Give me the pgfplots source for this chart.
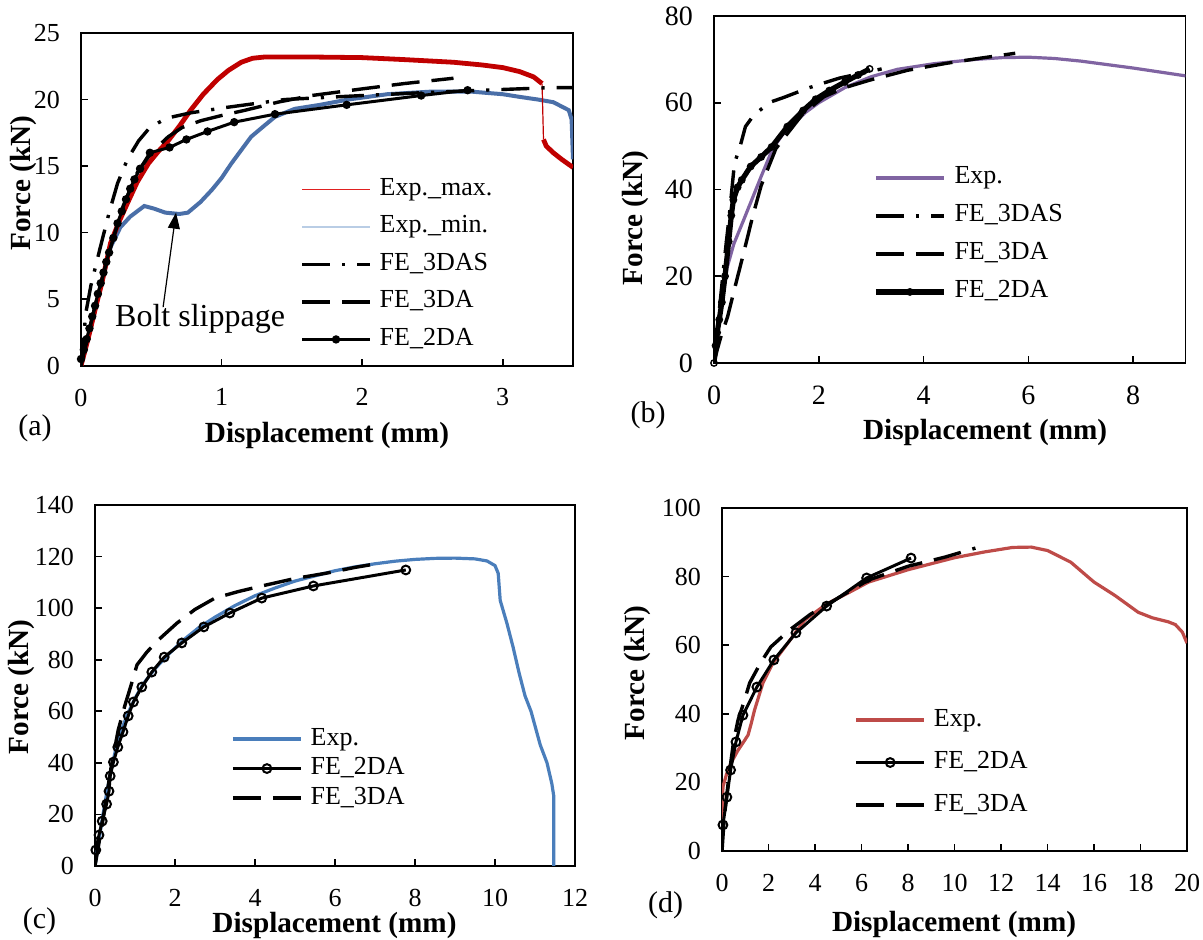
\documentclass[border=0pt]{standalone}
\usepackage{fontspec}
\setmainfont{Liberation Serif}
\usepackage{pgfplots}
\pgfplotsset{compat=1.18}
\usetikzlibrary{arrows.meta}

\definecolor{expmax}{HTML}{C00000}
\definecolor{expmaxleg}{HTML}{E02020}
\definecolor{expmin}{HTML}{4A6FA8}
\definecolor{expminleg}{HTML}{B9CDE5}
\definecolor{expb}{HTML}{8064A2}
\definecolor{expc}{HTML}{4A7EBB}
\definecolor{expd}{HTML}{BE4B48}

\pgfplotsset{
  panel/.style={
    scale only axis,
    axis line style={line width=0.9pt},
    tick align=inside,
    xtick pos=left, ytick pos=left,
    major tick length=3.5pt,
    tick style={black, line width=0.8pt},
    ticklabel style={font=\fontsize{13}{13}\selectfont},
    /pgf/number format/assume math mode=true,
    xticklabel shift=8pt, yticklabel shift=7pt,
    label style={font=\bfseries\fontsize{14.6}{16}\selectfont},
    xlabel style={anchor=center}, ylabel style={anchor=center},
    xlabel={Displacement (mm)}, ylabel={Force (kN)},
    legend cell align=left,
    legend style={draw=none, fill=none, inner sep=0pt, anchor=north west,
      column sep=4pt, font=\fontsize{13}{13}\selectfont,
      nodes={inner sep=0pt, text height=9pt, text depth=3pt}},
    legend image code/.code={\draw[mark repeat=2,mark phase=2,#1]
      plot coordinates {(0pt,0pt) (17pt,0pt) (34pt,0pt)};},
  },
  fe3das/.style={black, line width=1.7pt, dash pattern=on 14pt off 6pt on 1.6pt off 6pt},
  fe3da/.style={black, line width=1.7pt, dash pattern=on 14pt off 6pt},
}

\begin{document}
\begin{tikzpicture}
\useasboundingbox (0,0) rectangle (601.5pt,470pt);

% (a)
\begin{axis}[panel, at={(40.5pt,287.15pt)}, anchor=south west,
  width=246pt, height=166.35pt,
  xmin=0, xmax=3.5, ymin=0, ymax=25,
  xtick={0,1,2,3}, ytick={0,5,...,25},
  xlabel style={at={(axis description cs:0.5,-0.211)}},
  ylabel style={at={(axis description cs:-0.117,0.548)}},
  legend style={at={(0.445,0.567)}, row sep=6.75pt}]
\addplot[expmin, line width=2pt, forget plot] coordinates {
(0,0) (0.05,2.0) (0.1,4.2) (0.15,6.3) (0.21,8.9) (0.28,10.4) (0.35,11.2)
(0.45,12.0) (0.52,11.8) (0.6,11.5) (0.7,11.4) (0.76,11.5) (0.85,12.3)
(0.93,13.2) (1.0,14.1) (1.07,15.2) (1.14,16.2) (1.21,17.2) (1.3,18.0)
(1.38,18.7) (1.52,19.3) (1.7,19.6) (1.9,20.0) (2.18,20.4) (2.5,20.6)
(2.77,20.6) (3.0,20.4) (3.12,20.2) (3.25,20.0) (3.36,19.8) (3.47,19.2)
(3.49,18.5) (3.5,15.5)};
\addplot[expmax, line width=2.4pt, forget plot] coordinates {
(0,0) (0.05,2.0) (0.1,4.2) (0.15,6.3) (0.21,9.2) (0.27,10.8) (0.33,12.2)
(0.4,13.8) (0.48,15.2) (0.55,16.1) (0.62,16.9) (0.7,18.0) (0.78,19.2)
(0.87,20.4) (0.97,21.5) (1.05,22.2) (1.14,22.8) (1.22,23.1) (1.31,23.2)
(1.6,23.2) (2.0,23.15) (2.3,23.0) (2.65,22.8) (2.85,22.6) (3.0,22.4)
(3.12,22.1) (3.22,21.7) (3.28,21.2)};
\addplot[expmax, line width=0.6pt, forget plot] coordinates {(3.28,21.2) (3.29,17.0)};
\addplot[expmax, line width=2.4pt, forget plot] coordinates {
(3.29,17.0) (3.31,16.5) (3.36,16.0) (3.42,15.5) (3.5,14.9)};
\addplot[fe3das, forget plot] coordinates {
(0,0) (0.035,4.0) (0.07,6.0) (0.135,8.8) (0.2,11.5) (0.26,13.7) (0.33,15.5)
(0.41,16.9) (0.49,17.9) (0.61,18.6) (0.78,19.0) (1.03,19.4) (1.45,20.0)
(2.0,20.3) (2.4,20.5) (2.86,20.7) (3.36,20.9) (3.5,20.9)};
\addplot[fe3da, forget plot] coordinates {
(0,0) (0.05,2.2) (0.1,4.5) (0.2,8.5) (0.3,12.0) (0.4,14.5) (0.48,15.7)
(0.55,16.5) (0.62,17.2) (0.72,17.9) (0.85,18.4) (1.0,18.8) (1.17,19.2)
(1.4,19.8) (1.64,20.3) (2.0,20.8) (2.3,21.2) (2.65,21.6)};
\addplot[black, line width=1.5pt, mark=*, mark size=1.3pt, forget plot] coordinates {
(0,0.5) (0.02,1.2) (0.04,2.0) (0.06,2.8) (0.08,3.7) (0.1,4.5) (0.12,5.4)
(0.14,6.2) (0.16,7.0) (0.18,7.8) (0.2,8.5) (0.23,9.6) (0.26,10.7)
(0.29,11.6) (0.32,12.5) (0.35,13.3) (0.38,14.0) (0.42,14.8) (0.49,16.0)
(0.63,16.4) (0.75,17.0) (0.9,17.6) (1.09,18.3) (1.38,18.9) (1.89,19.6)
(2.42,20.3) (2.75,20.7)};
\addlegendimage{expmaxleg, line width=0.9pt}
\addlegendentry{Exp.\_max.}
\addlegendimage{expminleg, line width=1.2pt}
\addlegendentry{Exp.\_min.}
\addlegendimage{fe3das}
\addlegendentry{FE\_3DAS}
\addlegendimage{fe3da}
\addlegendentry{FE\_3DA}
\addlegendimage{black, line width=1.5pt, mark=*, mark size=1.3pt}
\addlegendentry{FE\_2DA}
\draw[-{Triangle[length=8pt,width=6pt]}, line width=0.6pt]
  (axis cs:0.584,4.4) -- (axis cs:0.676,11.5);
\node[font=\fontsize{16}{16}\selectfont] at (axis cs:0.847,3.54) {Bolt slippage};
\end{axis}

% (b)
\begin{axis}[panel, at={(357pt,288.5pt)}, anchor=south west,
  width=235.75pt, height=173.5pt,
  xmin=0, xmax=9, ymin=0, ymax=80,
  xtick={0,2,...,8}, ytick={0,20,...,80},
  ticklabel style={font=\fontsize{14}{14}\selectfont},
  xlabel style={at={(axis description cs:0.575,-0.199)}},
  ylabel style={at={(axis description cs:-0.167,0.418)}},
  legend style={at={(0.337,0.569)}, row sep=7pt}]
\addplot[expb, line width=1.6pt] coordinates {
(0,0) (0.05,5) (0.1,10) (0.18,17) (0.25,22) (0.38,27.5) (0.55,32.5)
(0.7,37) (0.9,43) (1.12,49.4) (1.3,52.5) (1.5,55) (1.75,57.8) (2.0,60)
(2.5,63.5) (3.0,66.0) (3.5,67.7) (4.2,69.0) (5.0,70.0) (5.5,70.4)
(6.0,70.5) (6.5,70.2) (7.0,69.6) (7.5,68.8) (8.0,68.0) (8.5,67.1) (9.0,66.2)};
\addlegendentry{Exp.}
\addplot[fe3das] coordinates {
(0,0) (0.1,12) (0.2,24) (0.3,35) (0.39,46) (0.5,50) (0.6,54.5) (0.75,57)
(0.9,58.5) (1.09,60.2) (1.35,61.3) (1.8,63.4) (2.16,64.8) (2.4,65.7)
(2.9,67.0) (3.2,67.8)};
\addlegendentry{FE\_3DAS}
\addplot[fe3da] coordinates {
(0,0) (0.06,3) (0.13,6) (0.26,10.7) (0.4,17.5) (0.55,24.6) (0.74,33.9)
(0.9,40.9) (1.18,49.4) (1.37,52.4) (1.7,57.5) (2.1,61.4) (2.5,63.5)
(2.97,65.2) (3.7,67.5) (4.44,69.1) (5.1,70.3) (5.75,71.4)};
\addlegendentry{FE\_3DA}
\addplot[black, line width=2.6pt, mark=o, mark size=1.6pt,
  mark options={line width=0.7pt}] coordinates {
(0,0) (0.03,4) (0.06,7) (0.1,10) (0.15,14) (0.21,20) (0.28,28) (0.33,34)
(0.37,37.6) (0.45,40.5) (0.53,42.2) (0.7,45.3) (0.9,47.5) (1.1,49.8)
(1.4,54.5) (1.7,58.2) (1.94,60.8) (2.2,62.8) (2.5,64.8) (2.75,66.4) (2.97,67.8)};
\addlegendentry{FE\_2DA}
\end{axis}

% (c)
\begin{axis}[panel, at={(47.5pt,37pt)}, anchor=south west,
  width=240pt, height=180.5pt,
  xmin=0, xmax=12, ymin=0, ymax=140,
  xtick={0,2,...,12}, ytick={0,20,...,140},
  xlabel style={at={(axis description cs:0.499,-0.166)}},
  ylabel style={at={(axis description cs:-0.154,0.496)}},
  legend style={at={(0.283,0.386)}, row sep=2.75pt}]
\addplot[expc, line width=1.6pt] coordinates {
(0,0) (0.1,10) (0.2,20) (0.3,29) (0.4,37) (0.5,44) (0.6,50) (0.8,58.5)
(1.0,65) (1.2,70.5) (1.5,76.5) (1.8,81.5) (2.2,87.5) (2.6,92.5) (3.0,96.5)
(3.5,101) (4.0,104.8) (4.5,107.8) (5.0,110.5) (5.5,112.5) (6.0,114.5)
(6.5,116) (7.0,117.2) (7.5,118.2) (8.0,118.9) (8.5,119.3) (9.0,119.4)
(9.5,119.1) (9.8,118.3) (10.0,116.5) (10.08,113.5) (10.13,103) (10.3,94)
(10.45,85) (10.6,75) (10.75,66) (10.9,60) (11.13,47) (11.3,40)
(11.42,32) (11.47,27) (11.47,0)};
\addlegendentry{Exp.}
\addplot[black, line width=1.5pt, mark=o, mark size=2.2pt,
  mark options={line width=1pt}] coordinates {
(0.02,6.2) (0.1,12) (0.18,17.4) (0.29,24) (0.35,29) (0.38,34.9) (0.46,40.3)
(0.57,46.1) (0.7,52) (0.83,58.2) (0.96,63.6) (1.17,69.4) (1.42,75.2)
(1.73,81) (2.17,86.5) (2.72,92.7) (3.37,98.1) (4.17,103.9) (5.46,108.6)
(7.77,114.8)};
\addlegendentry{FE\_2DA}
\addplot[fe3da] coordinates {
(0,0) (0.2,18) (0.4,38) (0.58,52.7) (0.75,62.4) (0.9,70) (1.05,78) (1.3,83)
(1.58,87.6) (2.05,94.2) (2.5,99.5) (3.0,103.9) (3.6,106.5) (4.17,108.6)
(5.0,111.5) (5.8,113.6) (6.5,115.8) (7.15,117.5)};
\addlegendentry{FE\_3DA}
\end{axis}

% (d)
\begin{axis}[panel, at={(361pt,44.5pt)}, anchor=south west,
  width=232.5pt, height=171.5pt,
  xmin=0, xmax=20, ymin=0, ymax=100,
  xtick={0,2,...,20}, ytick={0,20,...,100},
  xlabel style={at={(axis description cs:0.499,-0.213)}},
  ylabel style={at={(axis description cs:-0.182,0.519)}},
  legend style={at={(0.284,0.418)}, row sep=9.25pt}]
\addplot[expd, line width=1.6pt] coordinates {
(0,0) (0.02,10) (0.04,18.7) (0.2,22.5) (0.39,25.7) (0.69,29.4) (0.9,31.5)
(1.12,33.8) (1.25,37) (1.4,41.1) (1.76,49) (2.19,54.8) (2.83,60.6)
(3.55,67.3) (4.5,72) (5.5,75.5) (6.3,78.4) (8.0,82) (10.0,85.5) (11.3,87.2)
(12.5,88.5) (13.3,88.6) (14.0,87.6) (15.0,84.2) (16.0,78.4) (16.9,74.5)
(17.9,69.6) (18.5,68) (19.2,66.8) (19.5,66) (19.8,63.8) (20,60.6)};
\addlegendentry{Exp.}
\addplot[black, line width=1.5pt, forget plot] coordinates {(0,0) (0.04,7.6)};
\addplot[black, line width=1.5pt, mark=o, mark size=2.2pt,
  mark options={line width=1pt}] coordinates {
(0.04,7.6) (0.21,15.7) (0.37,23.6) (0.6,31.8) (0.9,39.6) (1.5,47.8)
(2.23,55.7) (3.18,63.6) (4.5,71.4) (6.22,79.6) (8.13,85.4)};
\addlegendentry{FE\_2DA}
\addplot[fe3da] coordinates {
(0,0) (0.1,10) (0.3,22) (0.5,32) (0.69,38.2) (0.97,44) (1.19,49) (1.68,55.1)
(2.1,59.5) (2.9,64.4) (3.8,69) (4.8,73) (6.3,79) (8,83) (9.6,85.7) (10.9,88.3)};
\addlegendentry{FE\_3DA}
\end{axis}

\node[font=\fontsize{15}{15}\selectfont] at (17.5pt,256pt) {(a)};
\node[font=\fontsize{15}{15}\selectfont] at (324pt,262.5pt) {(b)};
\node[font=\fontsize{15}{15}\selectfont] at (19.75pt,9.5pt) {(c)};
\node[font=\fontsize{15}{15}\selectfont] at (332.75pt,17.5pt) {(d)};
\end{tikzpicture}
\end{document}
